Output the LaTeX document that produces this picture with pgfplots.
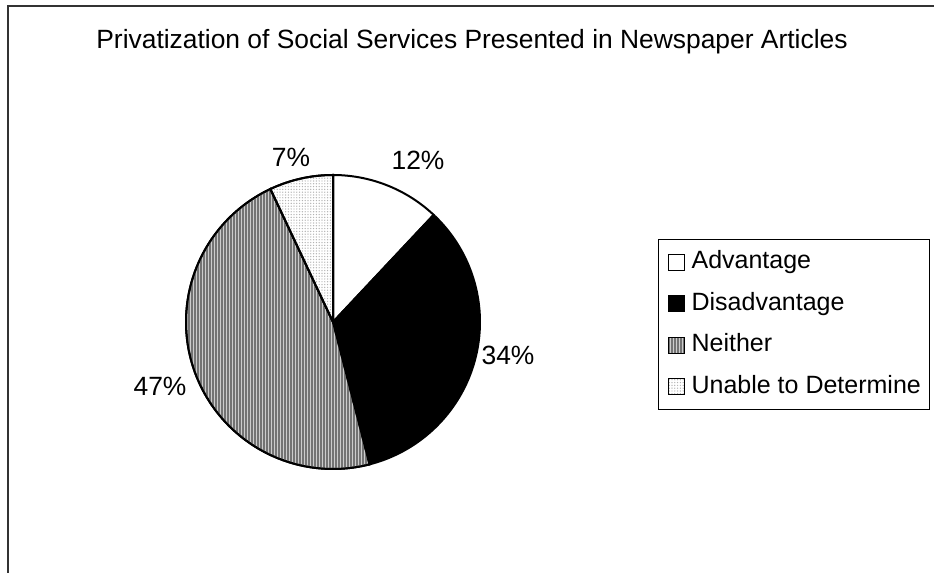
\documentclass[border=0pt]{standalone}
\usepackage{pgfplots}
\pgfplotsset{compat=1.18}
\usepackage{fontspec}
\setmainfont{Liberation Sans}
\usetikzlibrary{patterns.meta}

\begin{document}
\begin{tikzpicture}
\useasboundingbox (0,0) rectangle (467pt,286.5pt);
% shares in percent
\def\pA{12}\def\pB{34}\def\pC{47}\def\pD{7}
\def\cx{333}\def\cy{251}\def\rr{147}
\pgfmathsetmacro{\aA}{90}
\pgfmathsetmacro{\aB}{\aA-3.6*\pA}
\pgfmathsetmacro{\aC}{\aB-3.6*\pB}
\pgfmathsetmacro{\aD}{\aC-3.6*\pC}
\pgfmathsetmacro{\aE}{\aD-3.6*\pD}
\begin{axis}[
  scale only axis, width=467pt, height=286.5pt,
  xmin=0, xmax=934, ymin=0, ymax=573,
  hide axis, clip=false,
  font=\fontsize{13.2}{15}\selectfont,
  legend cell align=left,
  legend image code/.code={\draw[#1,line width=0.5pt] (0pt,-4pt) rectangle (8pt,4pt);},
  legend style={at={(0.7045,0.5829)}, anchor=north west, draw=black, line width=0.6pt,
    font=\fontsize{12.5}{15}\selectfont,
    nodes={inner sep=0pt, text height=9.4pt, text depth=2.8pt},
    row sep=8.6pt, column sep=3.5pt, inner xsep=4.5pt, inner ysep=5.2pt},
]
\addplot[draw=black, line width=1pt, fill=white, domain=\aB:\aA, samples=40, variable=\t]
  ({\cx+\rr*cos(\t)},{\cy+\rr*sin(\t)}) -- (axis cs:\cx,\cy) -- cycle;
\addlegendentry{Advantage}
\addplot[draw=black, line width=1pt, fill=black, domain=\aC:\aB, samples=80, variable=\t]
  ({\cx+\rr*cos(\t)},{\cy+\rr*sin(\t)}) -- (axis cs:\cx,\cy) -- cycle;
\addlegendentry{Disadvantage}
\addplot[draw=black, line width=1pt, fill=gray!40,
  postaction={pattern={Lines[angle=90,distance=1.5pt,line width=0.75pt]}, pattern color=black!55},
  domain=\aD:\aC, samples=100, variable=\t]
  ({\cx+\rr*cos(\t)},{\cy+\rr*sin(\t)}) -- (axis cs:\cx,\cy) -- cycle;
\addlegendentry{Neither}
\addplot[draw=black, line width=1pt, fill=white,
  postaction={pattern={Dots[distance=1.4pt,radius=0.35pt]}, pattern color=gray!60},
  domain=\aE:\aD, samples=20, variable=\t]
  ({\cx+\rr*cos(\t)},{\cy+\rr*sin(\t)}) -- (axis cs:\cx,\cy) -- cycle;
\addlegendentry{Unable to Determine}
\node at (axis cs:418,413) {12\%};
\node at (axis cs:508,218) {34\%};
\node at (axis cs:160,187) {47\%};
\node at (axis cs:291,416) {7\%};
\node at (axis cs:472,531) {Privatization of Social Services Presented in Newspaper Articles};
\draw[line width=1pt, black!80] (axis cs:8,0) -- (axis cs:8,567) -- (axis cs:934,567);
\end{axis}
\end{tikzpicture}
\end{document}
